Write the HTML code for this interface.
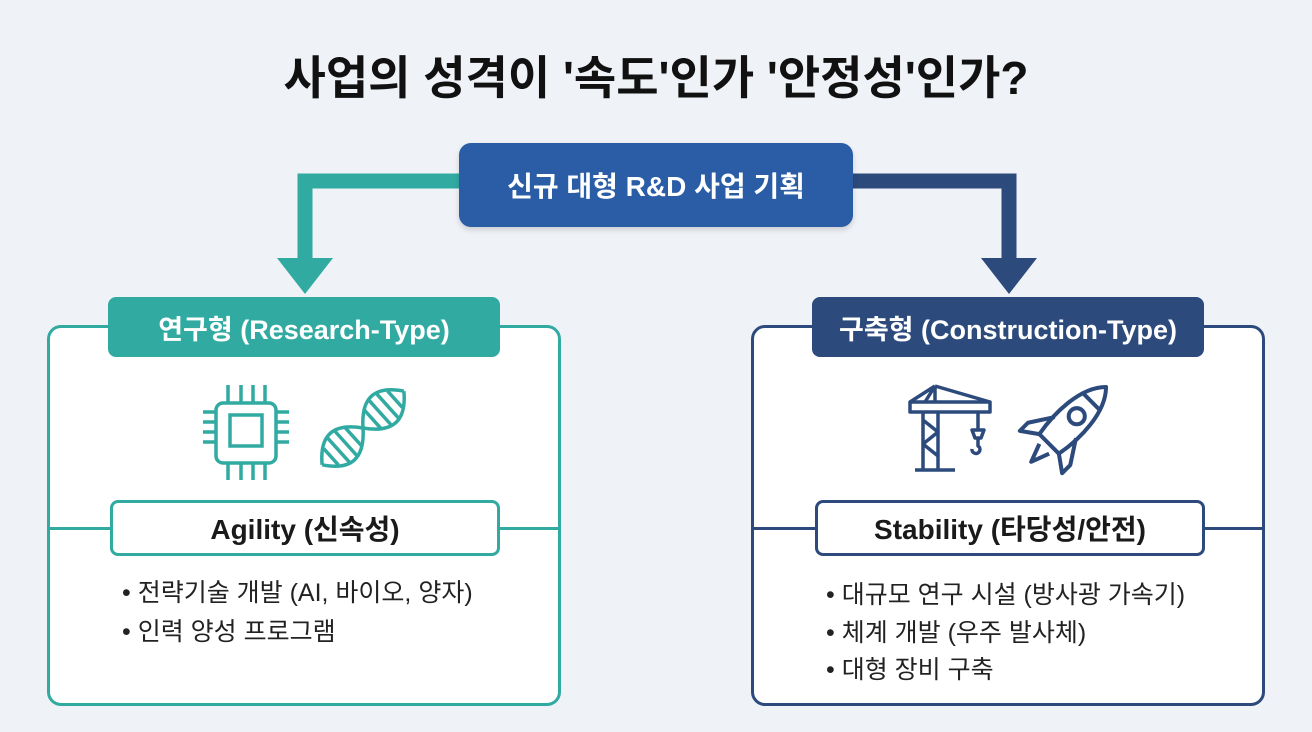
<!DOCTYPE html>
<html><head><meta charset="utf-8"><style>
*{margin:0;padding:0;box-sizing:border-box}
body{width:1312px;height:732px;background:#eff2f7;font-family:"Liberation Sans","Noto Sans CJK KR",sans-serif;position:relative;overflow:hidden;color:#1a1a1a}
.abs{position:absolute}
.title{left:0;width:1312px;top:42px;text-align:center;font-size:46px;font-weight:bold;color:#111;white-space:nowrap}
.top{left:459px;top:143px;width:394px;height:84px;background:#2a5da6;border-radius:12px;color:#fff;font-size:28px;font-weight:bold;display:flex;align-items:center;justify-content:center;box-shadow:0 3px 6px rgba(0,0,0,.15)}
.panel{top:325px;width:514px;height:381px;background:#fff;border:3px solid;border-radius:14px}
.tab{top:297px;width:392px;height:60px;border-radius:8px;color:#fff;font-size:27px;font-weight:bold;display:flex;align-items:center;justify-content:center;white-space:nowrap}
.hl{height:3px}
.inner{top:500px;height:56px;background:#fff;border:3px solid;border-radius:8px;font-size:28px;font-weight:bold;display:flex;align-items:center;justify-content:center;white-space:nowrap}
.b{font-size:25px;color:#222;white-space:nowrap}
</style></head><body>
<div class="abs title">사업의 성격이 '속도'인가 '안정성'인가?</div>
<svg class="abs" style="left:0;top:0" width="1312" height="732">
<path d="M460 181 H305 V262" fill="none" stroke="#31aaa2" stroke-width="15"/>
<polygon points="277,258 333,258 305,294" fill="#31aaa2"/>
<path d="M852 181 H1009 V262" fill="none" stroke="#2c4a7c" stroke-width="15"/>
<polygon points="981,258 1037,258 1009,294" fill="#2c4a7c"/>
</svg>
<div class="abs top">신규 대형 R&amp;D 사업 기획</div>

<div class="abs panel" style="left:47px;border-color:#31aaa2"></div>
<div class="abs hl" style="left:48px;top:527px;width:512px;background:#31aaa2"></div>
<div class="abs tab" style="left:108px;background:#31aaa2">연구형 (Research-Type)</div>
<div class="abs inner" style="left:110px;width:390px;border-color:#31aaa2">Agility (신속성)</div>
<div class="abs b" style="left:122px;top:573px">• 전략기술 개발 (AI, 바이오, 양자)</div>
<div class="abs b" style="left:122px;top:612px">• 인력 양성 프로그램</div>
<svg class="abs" style="left:180px;top:370px" width="260" height="110" fill="none" stroke="#31aaa2" stroke-width="3.5">
<rect x="36" y="33" width="60" height="60" rx="7"/><rect x="50" y="45" width="32" height="31"/>
<path d="M48 15v18M61 15v18M73 15v18M85 15v18M48 93v18M61 93v18M73 93v18M85 93v18M23 42h13M23 52h13M23 62h13M23 72h13M96 42h13M96 52h13M96 62h13M96 72h13"/>
<g transform="rotate(-42 183 58)">
<path d="M128 58 C146 34,164 34,183 58 S220 82,238 58"/>
<path d="M128 58 C146 82,164 82,183 58 S220 34,238 58"/>
<path d="M140 47v22M150 42v32M160 42v32M170 46v24M196 46v24M206 42v32M216 42v32M226 47v22"/>
</g>
</svg>

<div class="abs panel" style="left:751px;border-color:#2c4a7c"></div>
<div class="abs hl" style="left:752px;top:527px;width:512px;background:#2c4a7c"></div>
<div class="abs tab" style="left:812px;background:#2c4a7c">구축형 (Construction-Type)</div>
<div class="abs inner" style="left:815px;width:390px;border-color:#2c4a7c">Stability (타당성/안전)</div>
<div class="abs b" style="left:826px;top:575px">• 대규모 연구 시설 (방사광 가속기)</div>
<div class="abs b" style="left:826px;top:613px">• 체계 개발 (우주 발사체)</div>
<div class="abs b" style="left:826px;top:650px">• 대형 장비 구축</div>
<svg class="abs" style="left:890px;top:370px" width="220" height="110" fill="none" stroke="#2c4a7c" stroke-width="3.5" stroke-linejoin="round">
<path d="M20 32h80v10H20zM45 16L20 32M45 16l55 16M45 16v16M45 16l-10 16M33 42v58M48 42v58M33 50l15 12-15 12 15 12M25 100h40M88 42v18M82 60h12l-3 8h-6zM88 68v8a4 4 0 1 1-6 3"/>
<g transform="translate(177 56) rotate(45) scale(1.15)">
<path d="M0 -48 C16 -32 16 0 12 22 L-12 22 C-16 0 -16 -32 0 -48Z"/>
<path d="M-10 -30 H10"/>
<circle cx="0" cy="-12" r="7"/>
<path d="M-13 2 L-26 22 L-26 32 L-12 22 M13 2 L26 22 L26 32 L12 22"/>
<path d="M-6 28 L0 44 L6 28"/>
</g>
</svg>
</body></html>
